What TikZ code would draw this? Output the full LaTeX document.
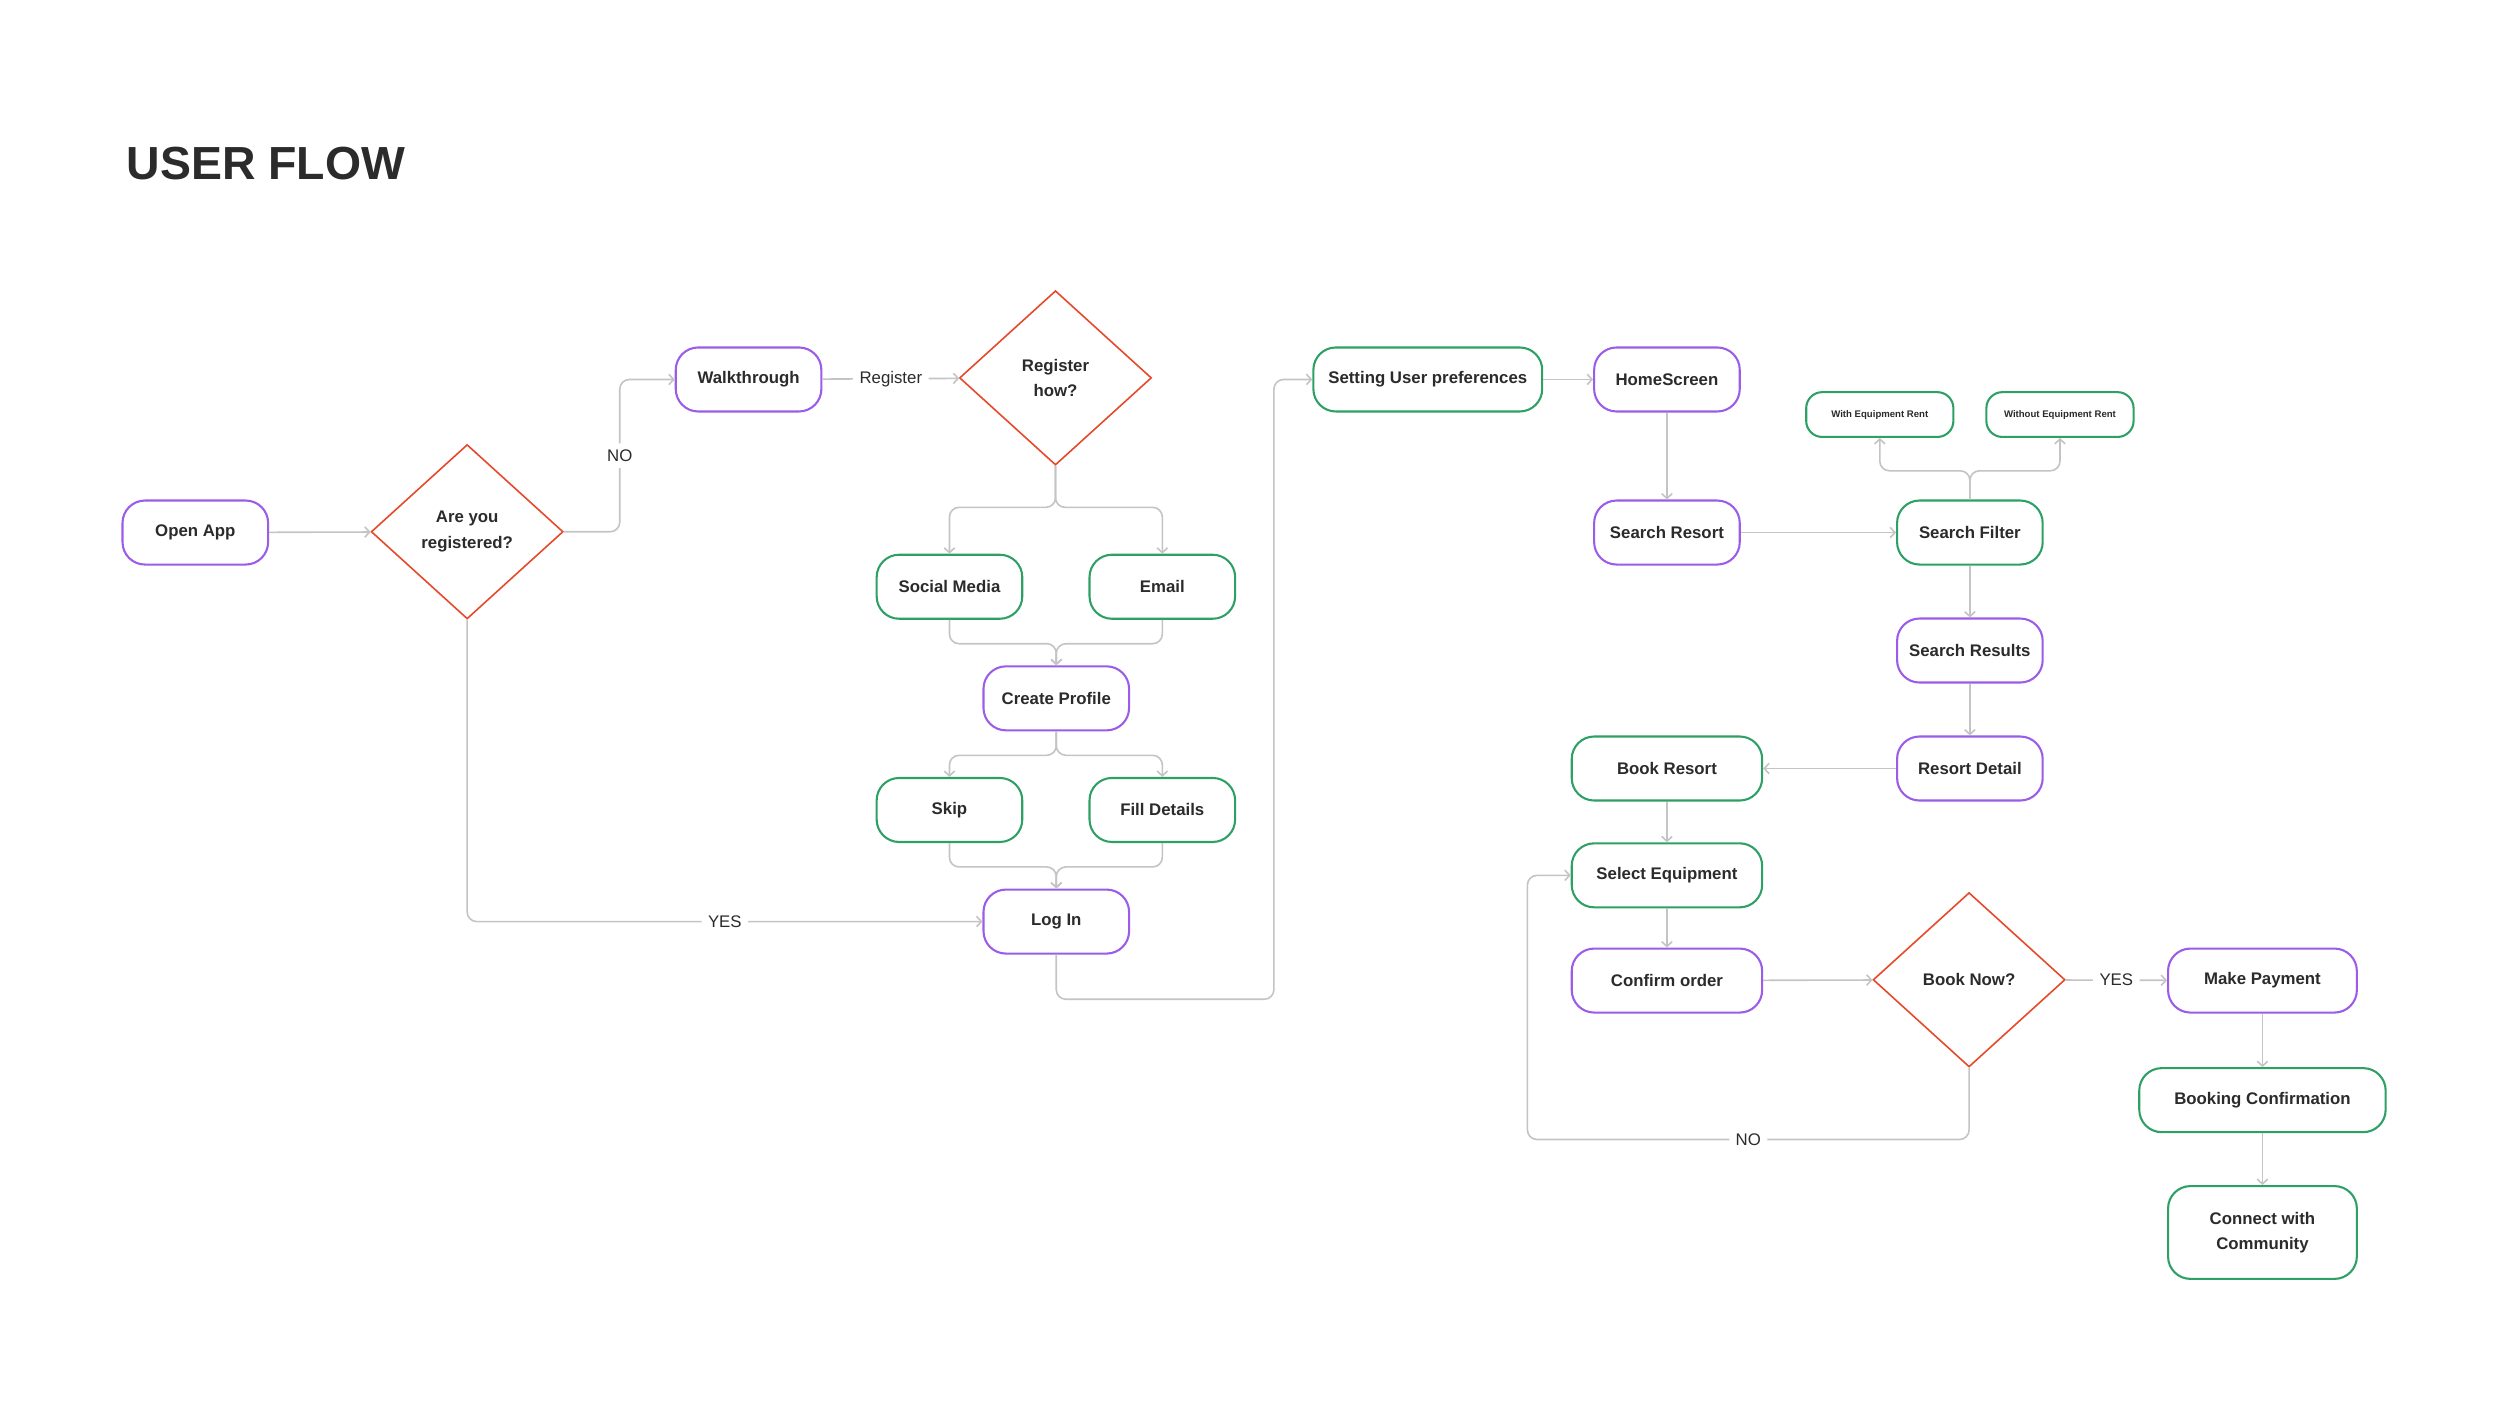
\documentclass[tikz,border=0pt]{standalone}
\usepackage{fontspec}
\setmainfont{Liberation Sans}
\usetikzlibrary{arrows.meta,shapes.geometric}
\definecolor{FlowPurple}{HTML}{9B5CE8}
\definecolor{FlowGreen}{HTML}{2FA065}
\definecolor{FlowRed}{HTML}{E64A2A}
\definecolor{FlowGray}{HTML}{C4C4C4}
\definecolor{FlowText}{HTML}{2B2B2B}

\begin{document}
\begin{tikzpicture}[
				x=0.9965pt, y=-0.9965pt,
				% Define the node looks
				box/.style={rectangle, rounded corners=14pt, line width=1.3pt, fill=white,
					minimum height=40pt, minimum width=91pt, inner sep=2pt, align=center,
					text=FlowText, font=\fontsize{10.5}{16}\selectfont\bfseries},
				purplebox/.style={box, draw=FlowPurple},
				greenbox/.style={box, draw=FlowGreen},
				smallbox/.style={greenbox, rounded corners=10pt, minimum height=28pt, minimum width=92pt,
					font=\fontsize{6}{7}\selectfont\bfseries},
				decision/.style={diamond, draw=FlowRed, line width=1pt, fill=white,
					minimum width=120pt, minimum height=109pt, inner sep=0pt, align=center,
					text=FlowText, font=\fontsize{10.5}{16}\selectfont\bfseries},
				flow/.style={draw=FlowGray, line width=1pt, rounded corners=6pt,
					-{Straight Barb[length=3pt,width=6.5pt]}},
				flowlabel/.style={fill=white, inner sep=4pt, text=FlowText, font=\fontsize{10.5}{12}\selectfont}
				]
				\path[use as bounding box, fill=white] (0,0) rectangle (1568,881.8);
				\pgfmathsetmacro{\WideBox}{119}
				\node[anchor=base west, text=FlowText, font=\fontsize{29}{32}\selectfont\bfseries] (Title) at (76,112.5) {USER FLOW};
				% Sign up part
				\node[purplebox] (OpenApp) at (122.5,334) {Open App};
				\node[decision] (RegisteredCheck) at (293,333.5) {Are you\\registered?};
				\node[purplebox] (Walkthrough) at (469.5,238) {Walkthrough};
				\node[decision] (RegisterHow) at (662,237) {Register\\how?};
				\node[greenbox] (SocialMedia) at (595.5,368) {Social Media};
				\node[greenbox] (Email) at (729,368) {Email};
				\node[purplebox] (CreateProfile) at (662.5,438) {Create Profile};
				\node[greenbox] (Skip) at (595.5,508) {Skip};
				\node[greenbox] (FillDetails) at (729,508) {Fill Details};
				\node[purplebox] (LogIn) at (662.5,578) {Log In};
				% Booking part
				\node[greenbox, minimum width=143pt] (UserPreferences) at (895.5,238) {Setting User preferences};
				\node[purplebox] (HomeScreen) at (1045.5,238) {HomeScreen};
				\node[purplebox] (SearchResort) at (1045.5,334) {Search Resort};
				\node[greenbox] (SearchFilter) at (1235.5,334) {Search Filter};
				\node[smallbox] (WithRent) at (1179,260) {With Equipment Rent};
				\node[smallbox] (WithoutRent) at (1292,260) {Without Equipment Rent};
				\node[purplebox] (SearchResults) at (1235.5,408) {Search Results};
				\node[purplebox] (ResortDetail) at (1235.5,482) {Resort Detail};
				\node[greenbox, minimum width=\WideBox] (BookResort) at (1045.5,482) {Book Resort};
				\node[greenbox, minimum width=\WideBox] (SelectEquipment) at (1045.5,549) {Select Equipment};
				\node[purplebox, minimum width=\WideBox] (ConfirmOrder) at (1045.5,615) {Confirm order};
				\node[decision] (BookNow) at (1235,614.5) {Book Now?};
				\node[purplebox, minimum width=118pt] (MakePayment) at (1419,615) {Make Payment};
				\node[greenbox, minimum width=154pt] (BookingConfirmation) at (1419,690) {Booking Confirmation};
				\node[greenbox, minimum width=118pt, minimum height=58pt] (Community) at (1419,773) {Connect with\\Community};
				\coordinate (PrefBend) at (799,238);
				\coordinate (EquipBend) at (958,549);
				% Connectors
				\draw[flow] (OpenApp) -- (RegisteredCheck);
				\draw[flow] (RegisteredCheck.east) -- ++(35,0) |- node[pos=0.25, flowlabel] {NO} (Walkthrough.west);
				\draw[flow] (RegisteredCheck.south) |- node[pos=0.75, flowlabel] {YES} (LogIn.west);
				\draw[flow] (Walkthrough) -- node[flowlabel] {Register} (RegisterHow);
				\draw[flow] (RegisterHow.south) -- ++(0,26) -| (SocialMedia.north);
				\draw[flow] (RegisterHow.south) -- ++(0,26) -| (Email.north);
				\draw[flow] (SocialMedia.south) -- ++(0,15) -| (CreateProfile.north);
				\draw[flow] (Email.south) -- ++(0,15) -| (CreateProfile.north);
				\draw[flow] (CreateProfile.south) -- ++(0,15) -| (Skip.north);
				\draw[flow] (CreateProfile.south) -- ++(0,15) -| (FillDetails.north);
				\draw[flow] (Skip.south) -- ++(0,15) -| (LogIn.north);
				\draw[flow] (FillDetails.south) -- ++(0,15) -| (LogIn.north);
				\draw[flow] (LogIn.south) -- ++(0,28) -| (PrefBend) -- (UserPreferences.west);
				\draw[flow] (UserPreferences) -- (HomeScreen);
				\draw[flow] (HomeScreen) -- (SearchResort);
				\draw[flow] (SearchResort) -- (SearchFilter);
				\draw[flow] (SearchFilter.north) -- ++(0,-18) -| (WithRent.south);
				\draw[flow] (SearchFilter.north) -- ++(0,-18) -| (WithoutRent.south);
				\draw[flow] (SearchFilter) -- (SearchResults);
				\draw[flow] (SearchResults) -- (ResortDetail);
				\draw[flow] (ResortDetail) -- (BookResort);
				\draw[flow] (BookResort) -- (SelectEquipment);
				\draw[flow] (SelectEquipment) -- (ConfirmOrder);
				\draw[flow] (ConfirmOrder) -- (BookNow);
				\draw[flow] (BookNow) -- node[flowlabel] {YES} (MakePayment);
				\draw[flow] (BookNow.south) -- ++(0,45) -| node[pos=0.25, flowlabel] {NO} (EquipBend) -- (SelectEquipment.west);
				\draw[flow] (MakePayment) -- (BookingConfirmation);
				\draw[flow] (BookingConfirmation) -- (Community);
			\end{tikzpicture}
\end{document}
